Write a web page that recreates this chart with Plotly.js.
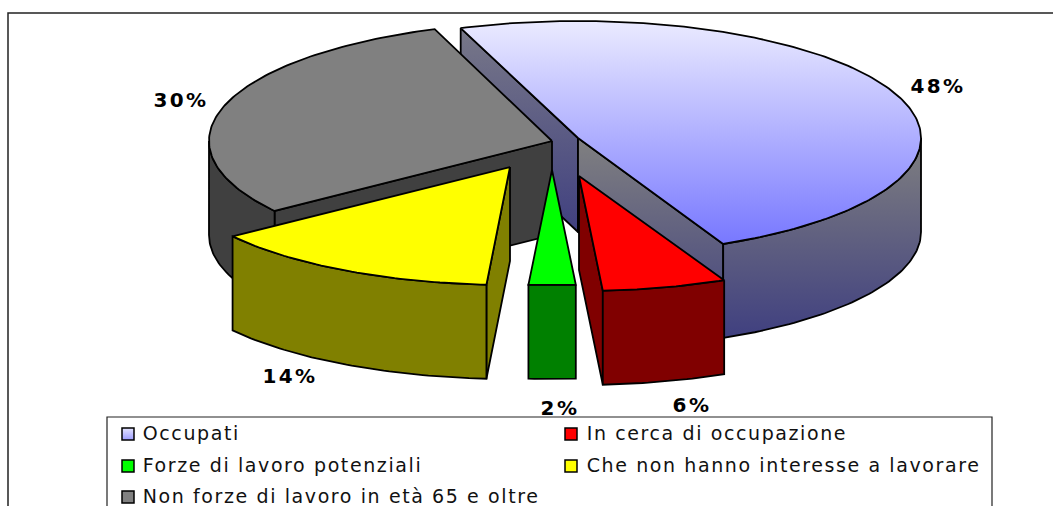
<!DOCTYPE html>
<html>
<head>
<meta charset="utf-8">
<script src="https://cdn.plot.ly/plotly-3.0.1.min.js"></script>
<style>
html,body{margin:0;padding:0;background:#fff;overflow:hidden}#chart{width:1053px;height:506px}
#chart .scatterlayer .trace:nth-last-child(3) .textpoint text{letter-spacing:2.4px}
#chart .scatterlayer .trace:last-child .textpoint text{letter-spacing:1.6px}
</style>
</head>
<body>
<div id="chart"></div>
<script>
// ---- data ----
const categories = ['Occupati', 'In cerca di occupazione', 'Forze di lavoro potenziali', 'Che non hanno interesse a lavorare', 'Non forze di lavoro in età 65 e oltre'];
const shares = [48.6, 5.85, 2.2, 13.9, 29.45];
const percentLabels = ['48%', '6%', '2%', '14%', '30%'];

// ---- styling and pie geometry ----
const topColors = ['#8080ff', '#ff0000', '#00ff00', '#ffff00', '#808080'];
const wallColors = ['#404080', '#800000', '#008000', '#808000', '#404040'];
const apexX = [578, 579, 552, 510, 552];
const apexY = [138, 176, 170, 167, 141];
const radYs = [117, 115, 115, 118, 119];
const labelX = [938, 692, 560, 290, 181];
const labelY = [88, 407, 410, 378, 102];
const swatchX = [128, 571, 128, 571, 128];
const legendTextX = [133, 577, 133, 577, 133];
const legendY = [434, 434, 466, 466, 497];
const startAngle = -20, radX = 343, depth = 94;

const rad = d => d * Math.PI / 180;
const traces = [];
function poly(xs, ys, fill, grad) {
  const t = {x: xs, y: ys, mode: 'lines', fill: 'toself', hoverinfo: 'skip', showlegend: false,
    line: {color: '#000', width: 1.8, shape: 'linear'}, fillcolor: fill};
  if (grad) t.fillgradient = {type: 'vertical', start: grad[0], stop: grad[1],
    colorscale: [[0, grad[2]], [1, grad[3]]]};
  traces.push(t);
}
function pt(i, ang, dz) {
  return [apexX[i] + radX * Math.sin(rad(ang)), apexY[i] - radYs[i] * Math.cos(rad(ang)) + (dz || 0)];
}
function arc(i, a0, a1, dz) {
  const out = [];
  const n = Math.max(2, Math.ceil(Math.abs(a1 - a0)));
  for (let k = 0; k <= n; k++) out.push(pt(i, a0 + (a1 - a0) * k / n, dz));
  return out;
}
function cutFace(i, ang, fill, grad) {
  const p = pt(i, ang);
  poly([apexX[i], p[0], p[0], apexX[i], apexX[i]],
       [apexY[i], p[1], p[1] + depth, apexY[i] + depth, apexY[i]], fill, grad);
}
// paint slices back to front
const total = shares.reduce((a, b) => a + b, 0);
const spans = [];
let cursor = startAngle;
shares.forEach(v => { spans.push([cursor, cursor + v / total * 360]); cursor += v / total * 360; });
const order = [0, 4, 2, 1, 3];
order.forEach(i => {
  const [a0, a1] = spans[i];
  const isBlue = i === 0;
  const ys = p => p[1];
  if (Math.cos(rad(a0 - 90)) < 0)
    cutFace(i, a0, wallColors[i], isBlue ? [27, 232, '#787888', '#404080'] : null);
  if (Math.cos(rad(a1 + 90)) < 0)
    cutFace(i, a1, wallColors[i], isBlue ? [138, 337, '#808080', '#404080'] : null);
  const w0 = Math.max(a0, 90), w1 = Math.min(a1, 270);
  if (w1 > w0) {
    const upper = arc(i, w0, w1), lower = arc(i, w1, w0, depth);
    const ring = upper.concat(lower, [upper[0]]);
    poly(ring.map(p => p[0]), ring.map(ys), wallColors[i], isBlue ? [138, 337, '#808080', '#404080'] : null);
  }
  const rim = arc(i, a0, a1);
  const top = [[apexX[i], apexY[i]]].concat(rim, [[apexX[i], apexY[i]]]);
  poly(top.map(p => p[0]), top.map(ys), topColors[i], isBlue ? [20, 243, '#ebebff', '#7878ff'] : null);
});

// percentage labels
traces.push({x: labelX, y: labelY, mode: 'text', hoverinfo: 'skip', showlegend: false,
  text: percentLabels, textposition: 'middle center',
  textfont: {family: 'DejaVu Sans', size: 20, color: '#000', weight: 700}});

// legend swatches and labels
traces.push({x: swatchX, y: legendY, mode: 'markers', hoverinfo: 'skip', showlegend: false,
  marker: {symbol: 'square', size: 12, color: ['#e4e4ff', '#ff0000', '#00ff00', '#ffff00', '#808080'],
    gradient: {type: 'vertical', color: ['#9c9cff', '#ff0000', '#00ff00', '#ffff00', '#808080']},
    line: {color: '#000', width: 1.5}}});
traces.push({x: legendTextX, y: legendY.map(v => v + 1), mode: 'markers+text', hoverinfo: 'skip', showlegend: false,
  text: categories, textposition: 'middle right',
  textfont: {family: 'DejaVu Sans', size: 19, color: '#111'},
  marker: {size: 14, opacity: 0}});

const hidden = {visible: false, fixedrange: true};
const layout = {
  width: 1053, height: 506, margin: {l: 0, r: 0, t: 0, b: 0},
  paper_bgcolor: '#fff', plot_bgcolor: '#fff', showlegend: false,
  xaxis: Object.assign({range: [0, 1053]}, hidden),
  yaxis: Object.assign({range: [506, 0]}, hidden),
  shapes: [
    {type: 'rect', layer: 'below', x0: 8, x1: 1100, y0: 13, y1: 560, line: {color: '#222', width: 1.5}},
    {type: 'rect', layer: 'below', x0: 107, x1: 992, y0: 417, y1: 560, line: {color: '#222', width: 1.2}, fillcolor: '#fff'}
  ]
};
Plotly.newPlot('chart', traces, layout, {displayModeBar: false, staticPlot: true});
</script>
</body>
</html>
